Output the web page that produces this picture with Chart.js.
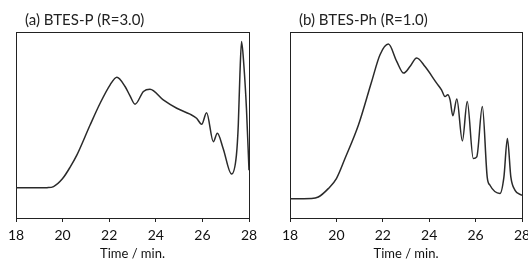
<!DOCTYPE html>
<html>
<head>
<meta charset="utf-8">
<script src="https://cdn.jsdelivr.net/npm/chart.js@4/dist/chart.umd.min.js"></script>
<style>
  html, body { margin: 0; padding: 0; overflow: hidden; background: #fff; }
  body { width: 528px; height: 260px; position: relative; }
  canvas { position: absolute; top: 0; }
  #chartA { left: 0; }
  #chartB { left: 264px; }
</style>
</head>
<body>
<canvas id="chartA" width="264" height="260"></canvas>
<canvas id="chartB" width="280" height="260"></canvas>
<script>
// x axis ticks (min)
const xTicks = [18, 20, 22, 24, 26, 28];

// (a) BTES-P (R=3.0) - retention time and relative signal
const timeA = [18.0, 19.0, 19.33, 19.61, 20.0, 20.33, 20.61, 21.18, 21.61, 22.04, 22.33, 22.68, 22.9,
  23.11, 23.47, 23.75, 24.32, 24.9, 25.47, 25.75, 25.97, 26.18, 26.47, 26.64, 26.89, 27.25, 27.46,
  27.54, 27.61, 27.68, 27.78, 27.89, 28.0];
const signalA = [16.2, 16.2, 16.3, 16.9, 21.2, 27.5, 33.8, 50, 61.7, 71.6, 75.7, 70.7, 65.5,
  61.2, 68.0, 69.2, 63.5, 59.0, 55.8, 53.6, 50.4, 56.6, 41.0, 45.5, 37.4, 23.6, 33.8,
  50, 77, 94.9, 82, 59, 25.7];

// (b) BTES-Ph (R=1.0)
const timeB = [18.0, 18.93, 19.22, 19.65, 20.0, 20.37, 20.95, 21.52, 21.88, 22.24, 22.6, 22.9, 23.17,
  23.46, 23.82, 24.32, 24.53, 24.68, 24.8, 24.9, 25.02, 25.19, 25.43, 25.64, 25.9, 26.05, 26.29,
  26.5, 26.62, 27.05, 27.22, 27.37, 27.52, 27.7, 28.0];
const signalB = [10.4, 10.5, 11.3, 15.8, 21.2, 32, 50, 73.4, 87.8, 93.5, 84.2, 77.9, 81.4,
  86.0, 81.4, 72.5, 68.9, 65.3, 66.2, 63.5, 55.0, 64.0, 41.4, 62.6, 32.0, 32.9, 59.9,
  22, 17.6, 13.2, 22, 42.8, 22, 14.9, 12.2];

const FONT = "Lato, 'Open Sans', sans-serif";
const INK = "#222";

// draws the panel caption a little right of the plot's left edge
const panelTitle = {
  id: "panelTitle",
  afterDraw(chart, args, opts) {
    const ctx = chart.ctx;
    ctx.save();
    ctx.font = "15px " + FONT;
    ctx.fillStyle = INK;
    ctx.textBaseline = "middle";
    ctx.fillText(opts.text, chart.chartArea.left + 9, 20);
    ctx.restore();
  }
};

function makeChart(id, times, values, title, pad) {
  const points = times.map((t, i) => ({ x: t, y: values[i] }));
  const ctx = document.getElementById(id).getContext("2d");
  return new Chart(ctx, {
    type: "line",
    data: {
      datasets: [{
        data: points,
        borderColor: "#2a2a2a",
        borderWidth: 1.5,
        pointRadius: 0,
        fill: false,
        cubicInterpolationMode: "monotone"
      }]
    },
    options: {
      responsive: false,
      animation: false,
      layout: { padding: pad },
      plugins: {
        legend: { display: false },
        tooltip: { enabled: false },
        panelTitle: { text: title }
      },
      scales: {
        x: {
          type: "linear",
          position: "bottom",
          min: 18,
          max: 28,
          afterBuildTicks: s => { s.ticks = xTicks.map(v => ({ value: v })); },
          afterFit: s => { s.height = 42; },
          grid: { drawOnChartArea: false, drawTicks: true, tickLength: 4, color: INK },
          border: { display: true, color: INK, width: 1 },
          ticks: { color: "#111", font: { family: FONT, size: 14 }, padding: 5, maxRotation: 0 },
          title: { display: true, text: "Time / min.", color: "#111", font: { family: FONT, size: 13 }, padding: { top: 0, bottom: -2 } }
        },
        x2: {
          type: "linear",
          position: "top",
          min: 18,
          max: 28,
          afterFit: s => { s.height = 0; },
          grid: { display: false, drawTicks: false },
          ticks: { display: false },
          border: { display: true, color: INK, width: 1 }
        },
        y: {
          type: "linear",
          position: "left",
          min: 0,
          max: 100,
          afterFit: s => { s.width = 0; },
          grid: { display: false, drawTicks: false },
          ticks: { display: false },
          border: { display: true, color: INK, width: 1 }
        },
        y2: {
          type: "linear",
          position: "right",
          min: 0,
          max: 100,
          afterFit: s => { s.width = 0; },
          grid: { display: false, drawTicks: false },
          ticks: { display: false },
          border: { display: true, color: INK, width: 1 }
        }
      }
    },
    plugins: [panelTitle]
  });
}

makeChart("chartA", timeA, signalA, "(a) BTES-P (R=3.0)", { left: 16, right: 15, top: 32, bottom: 0 });
makeChart("chartB", timeB, signalB, "(b) BTES-Ph (R=1.0)", { left: 26, right: 22, top: 32, bottom: 0 });
</script>
</body>
</html>
